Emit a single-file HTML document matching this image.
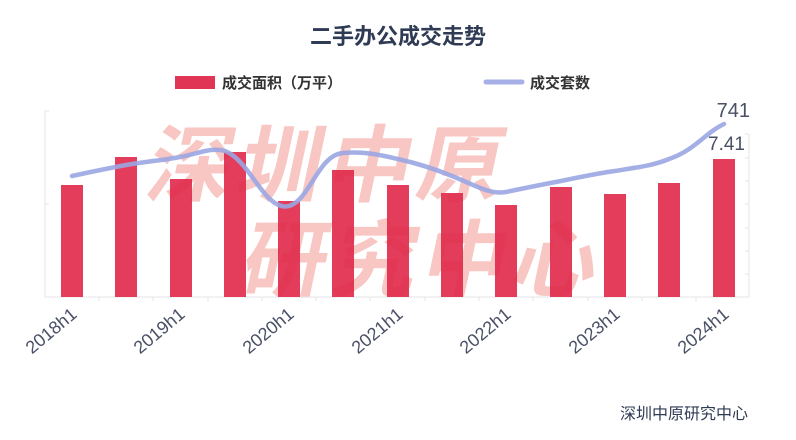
<!DOCTYPE html>
<html><head><meta charset="utf-8"><style>
body{margin:0;background:#fff;width:796px;height:435px;overflow:hidden;font-family:"Liberation Sans","Noto Sans CJK SC",sans-serif}
</style></head><body>
<svg width="796" height="435" viewBox="0 0 796 435" xmlns="http://www.w3.org/2000/svg" font-family="Liberation Sans, Noto Sans CJK SC, sans-serif">
<text x="398" y="44" text-anchor="middle" font-size="22" font-weight="bold" fill="#2f3a55">二手办公成交走势</text>
<rect x="175" y="76" width="40" height="13" fill="#e03555"/>
<text x="222" y="88" font-size="15" font-weight="bold" fill="#333">成交面积（万平）</text>
<line x1="486" y1="82" x2="522" y2="82" stroke="#a6b0e6" stroke-width="5" stroke-linecap="round"/>
<text x="530" y="88" font-size="15" font-weight="bold" fill="#333">成交套数</text>
<g fill="#f6b3b0" opacity="0.75" font-weight="bold" font-size="84" transform="skewX(-12)">
<text x="185" y="195" letter-spacing="6">深圳中原</text>
<text x="300" y="290" letter-spacing="6">研究中心</text>
</g>
<g stroke="#e6e6ea" stroke-width="1" fill="none">
<line x1="45" y1="111" x2="45" y2="297"/>
<line x1="45" y1="111" x2="49" y2="111"/>
<line x1="45" y1="204" x2="49" y2="204"/>
<line x1="45" y1="297" x2="749" y2="297"/>
<line x1="749" y1="134" x2="749" y2="297"/>
<path d="M749 134h-4M749 158h-4M749 181h-4M749 204h-4M749 228h-4M749 251h-4M749 274h-4"/>
<path d="M99 297v4M153 297v4M208 297v4M262 297v4M316 297v4M370 297v4M425 297v4M479 297v4M533 297v4M588 297v4M642 297v4M696 297v4"/>
</g>
<g fill="#e0294a" opacity="0.9">
<rect x="61" y="185" width="22" height="112"/>
<rect x="115" y="157" width="22" height="140"/>
<rect x="170" y="179" width="22" height="118"/>
<rect x="224" y="152" width="22" height="145"/>
<rect x="278" y="201" width="22" height="96"/>
<rect x="332" y="170" width="22" height="127"/>
<rect x="387" y="185" width="22" height="112"/>
<rect x="441" y="193" width="22" height="104"/>
<rect x="495" y="205" width="22" height="92"/>
<rect x="550" y="187" width="22" height="110"/>
<rect x="604" y="194" width="22" height="103"/>
<rect x="658" y="183" width="22" height="114"/>
<rect x="713" y="159" width="22" height="138"/>
</g>
<path d="M72 176 C95 171,110 168,126 165 C150 161,165 160,180 157 C200 153,212 147,225 151 C250 160,265 212,289 206 C310 200,318 155,343 153 C365 151,380 155,398 159 C420 164,435 169,452 176 C475 185,490 195,506 192 C525 188,545 184,561 181 C580 177,600 173,615 171 C640 167,655 165,669 159 C695 150,705 133,724 124" fill="none" stroke="#9aa6e2" stroke-width="4.5" stroke-linecap="round" opacity="0.9"/>
<text x="750" y="117" text-anchor="end" font-size="20" fill="#4a5166">741</text>
<text x="745" y="150" text-anchor="end" font-size="19" fill="#4a5166">7.41</text>
<g font-size="18" fill="#4a5166" text-anchor="end">
<text transform="translate(78,316) rotate(-40)">2018h1</text>
<text transform="translate(186,316) rotate(-40)">2019h1</text>
<text transform="translate(295,316) rotate(-40)">2020h1</text>
<text transform="translate(404,316) rotate(-40)">2021h1</text>
<text transform="translate(512,316) rotate(-40)">2022h1</text>
<text transform="translate(621,316) rotate(-40)">2023h1</text>
<text transform="translate(730,316) rotate(-40)">2024h1</text>
</g>
<text x="748" y="419" text-anchor="end" font-size="16" fill="#2f3a55">深圳中原研究中心</text>
</svg>
</body></html>
